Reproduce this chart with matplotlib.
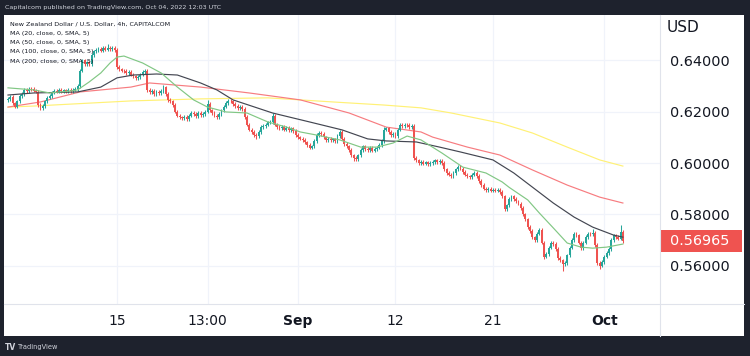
import matplotlib
matplotlib.use("Agg")
import matplotlib.pyplot as plt
from matplotlib.patches import Rectangle
from matplotlib.lines import Line2D
import matplotlib.transforms as mtransforms

# ---------------- data ----------------
first_open = 0.6245
closes = [
    0.6250, 0.6258, 0.6232, 0.6220, 0.6240, 0.6262, 0.6270, 0.6285, 0.6280, 0.6290,
    0.6288, 0.6282, 0.6278, 0.6225, 0.6215, 0.6222, 0.6240, 0.6255, 0.6262, 0.6275,
    0.6282, 0.6278, 0.6285, 0.6280, 0.6283, 0.6279, 0.6284, 0.6280, 0.6286, 0.6288,
    0.6300, 0.6360, 0.6400, 0.6385, 0.6392, 0.6385, 0.6420, 0.6435, 0.6440, 0.6445,
    0.6438, 0.6448, 0.6442, 0.6450, 0.6445, 0.6448, 0.6440, 0.6375, 0.6365, 0.6360,
    0.6358, 0.6350, 0.6355, 0.6345, 0.6338, 0.6330, 0.6335, 0.6345, 0.6355, 0.6360,
    0.6285, 0.6275, 0.6282, 0.6270, 0.6278, 0.6272, 0.6280, 0.6295, 0.6270, 0.6245,
    0.6240, 0.6225, 0.6200, 0.6185, 0.6178, 0.6175, 0.6180, 0.6172, 0.6185, 0.6195,
    0.6190, 0.6183, 0.6195, 0.6188, 0.6192, 0.6200, 0.6230, 0.6205, 0.6195, 0.6185,
    0.6180, 0.6190, 0.6205, 0.6220, 0.6235, 0.6242, 0.6240, 0.6230, 0.6222, 0.6215,
    0.6218, 0.6210, 0.6180, 0.6150, 0.6130, 0.6120, 0.6110, 0.6105, 0.6120, 0.6140,
    0.6145, 0.6150, 0.6158, 0.6160, 0.6185, 0.6150, 0.6140, 0.6135, 0.6142, 0.6130,
    0.6138, 0.6128, 0.6135, 0.6125, 0.6110, 0.6100, 0.6095, 0.6090, 0.6080, 0.6070,
    0.6060, 0.6065, 0.6085, 0.6110, 0.6118, 0.6112, 0.6100, 0.6090, 0.6095, 0.6088,
    0.6092, 0.6085, 0.6105, 0.6120, 0.6095, 0.6075, 0.6065, 0.6050, 0.6030, 0.6020,
    0.6015, 0.6030, 0.6050, 0.6065, 0.6055, 0.6050, 0.6058, 0.6048, 0.6055, 0.6060,
    0.6070, 0.6085, 0.6130, 0.6135, 0.6120, 0.6110, 0.6115, 0.6105, 0.6130, 0.6150,
    0.6145, 0.6150, 0.6148, 0.6140, 0.6145, 0.6020, 0.6010, 0.6000, 0.6005, 0.5998,
    0.6002, 0.5995, 0.6000, 0.6005, 0.6010, 0.6005, 0.6008, 0.6000, 0.5975, 0.5960,
    0.5955, 0.5950, 0.5962, 0.5975, 0.5985, 0.5978, 0.5965, 0.5955, 0.5948, 0.5945,
    0.5955, 0.5960, 0.5950, 0.5930, 0.5915, 0.5900, 0.5895, 0.5898, 0.5892, 0.5896,
    0.5892, 0.5895, 0.5888, 0.5870, 0.5820, 0.5835, 0.5860, 0.5870, 0.5860, 0.5850,
    0.5842, 0.5825, 0.5800, 0.5780, 0.5750, 0.5735, 0.5710, 0.5700, 0.5725, 0.5738,
    0.5690, 0.5635, 0.5645, 0.5670, 0.5690, 0.5685, 0.5665, 0.5630, 0.5620, 0.5605,
    0.5610, 0.5640, 0.5670, 0.5700, 0.5725, 0.5718, 0.5690, 0.5668, 0.5690, 0.5712,
    0.5725, 0.5722, 0.5728, 0.5680, 0.5610, 0.5600, 0.5615, 0.5635, 0.5650, 0.5665,
    0.5700, 0.5718, 0.5712, 0.5705, 0.5730, 0.56965,
]
wick_pad = 0.0007
wick_highs = {43: 0.6462, 67: 0.6305, 86: 0.6245, 114: 0.6195, 143: 0.6128,
              162: 0.6142, 264: 0.5758, 252: 0.5742}
wick_lows = {14: 0.6205, 107: 0.6095, 149: 0.6008, 239: 0.5580, 255: 0.5588,
             231: 0.5625}

ma20_bars = [0, 11, 18, 27, 30, 35, 40, 44, 47, 50, 58, 66, 73, 80, 86, 94, 103, 112,
             120, 126, 133, 143, 152, 159, 166, 172, 178, 187, 196, 206, 213, 216, 224,
             229, 235, 241, 247, 252, 258, 265]
ma20_vals = [0.6293, 0.6285, 0.6273, 0.6281, 0.6285, 0.6316, 0.6351, 0.6390, 0.6413,
             0.6417, 0.6390, 0.6351, 0.6296, 0.6246, 0.6218, 0.6199, 0.6195, 0.6160,
             0.6140, 0.6121, 0.6109, 0.6090, 0.6062, 0.6062, 0.6078, 0.6105, 0.6090,
             0.6039, 0.5984, 0.5961, 0.5926, 0.5905, 0.5856, 0.5805, 0.5747, 0.5688,
             0.5672, 0.5668, 0.5672, 0.5684]
ma50_bars = [0, 11, 30, 40, 47, 54, 64, 73, 83, 90, 97, 114, 130, 144, 155, 163, 176,
             186, 195, 209, 218, 226, 235, 244, 252, 261, 265]
ma50_vals = [0.6265, 0.6273, 0.6277, 0.6296, 0.6332, 0.6343, 0.6347, 0.6343, 0.6312,
             0.6285, 0.6246, 0.6195, 0.6160, 0.6129, 0.6094, 0.6086, 0.6082, 0.6062,
             0.6043, 0.6012, 0.5961, 0.5906, 0.5844, 0.5789, 0.5750, 0.5719, 0.5711]
ma100_bars = [0, 14, 31, 53, 61, 83, 104, 126, 147, 163, 178, 183, 198, 212, 226, 241,
              255, 265]
ma100_vals = [0.6218, 0.6238, 0.6277, 0.6296, 0.6312, 0.6296, 0.6273, 0.6246, 0.6195,
              0.6140, 0.6121, 0.6101, 0.6062, 0.6031, 0.5973, 0.5914, 0.5867, 0.5844]
ma200_bars = [0, 11, 53, 83, 112, 140, 162, 178, 191, 212, 226, 241, 255, 265]
ma200_vals = [0.6218, 0.6222, 0.6242, 0.6250, 0.6254, 0.6238, 0.6226, 0.6215, 0.6195,
              0.6156, 0.6117, 0.6062, 0.6012, 0.5988]

tick_bars = [47, 86, 125, 167, 209, 257]
tick_labels = ['15', '13:00', 'Sep', '12', '21', 'Oct']
bold_labels = ['Sep', 'Oct']
price_ticks = [0.56, 0.58, 0.60, 0.62, 0.64]
price_labels = ['0.56000', '0.58000', '0.60000', '0.62000', '0.64000']
last_price = 0.56965
last_label = '0.56965'

title = 'New Zealand Dollar / U.S. Dollar, 4h, CAPITALCOM'
ma_labels = ['MA (20, close, 0, SMA, 5)', 'MA (50, close, 0, SMA, 5)',
             'MA (100, close, 0, SMA, 5)', 'MA (200, close, 0, SMA, 5)']
header = 'Capitalcom published on TradingView.com, Oct 04, 2022 12:03 UTC'

# ---------------- figure ----------------
W, H = 750, 356
plt.rcParams['font.family'] = ['DejaVu Sans']
fig = plt.figure(figsize=(W / 100, H / 100), dpi=100)
fig.patch.set_facecolor('#1e222d')

def fx(px):
    return px / W

def fy(py):
    return 1 - py / H

# white panel (behind the axes)
panel_ax = fig.add_axes([fx(4), fy(336), fx(744) - fx(4), fy(15) - fy(336)], zorder=-5)
panel_ax.set_facecolor('white')
panel_ax.set_xticks([])
panel_ax.set_yticks([])
for s in panel_ax.spines.values():
    s.set_visible(False)

ax = fig.add_axes([fx(4), fy(304), fx(660) - fx(4), fy(15) - fy(304)], zorder=1)
ax.set_facecolor('white')

n = len(closes)
opens = [first_open] + closes[:-1]
UP, DN = '#26a69a', '#ef5350'
for i in range(n):
    o, c = opens[i], closes[i]
    col = UP if c >= o else DN
    hi = wick_highs.get(i, max(o, c) + wick_pad)
    lo = wick_lows.get(i, min(o, c) - wick_pad)
    ax.vlines(i, lo, hi, color=col, lw=0.75, zorder=3)
    body = max(abs(c - o), 0.00015)
    ax.bar(i, body, bottom=min(o, c), width=0.82, color=col, lw=0, zorder=4)

ax.plot(ma200_bars, ma200_vals, color='#fff176', lw=0.85, zorder=2)
ax.plot(ma100_bars, ma100_vals, color='#f77c80', lw=0.85, zorder=2)
ax.plot(ma50_bars, ma50_vals, color='#434651', lw=0.85, zorder=5)
ax.plot(ma20_bars, ma20_vals, color='#81c784', lw=0.85, zorder=5)

ax.set_xlim(-1.72, 281.0)
ax.set_ylim(0.54503, 0.65770)

ax.yaxis.tick_right()
ax.set_yticks(price_ticks)
ax.set_yticklabels(price_labels)
ax.set_xticks(tick_bars)
ax.set_xticklabels(tick_labels)
ax.tick_params(axis='both', length=0, labelsize=10, colors='#131722')
ax.tick_params(axis='y', pad=7.5, labelsize=10.4)
ax.tick_params(axis='x', pad=7.5)
for lab in ax.get_xticklabels():
    if lab.get_text() in bold_labels:
        lab.set_fontweight('bold')
ax.grid(True, color='#f0f3fa', lw=0.9, zorder=0)
ax.set_axisbelow(True)
for s in ax.spines.values():
    s.set_visible(False)

# separators
fig.lines.append(Line2D([fx(660), fx(660)], [fy(15), fy(336)], transform=fig.transFigure,
                        color='#e0e3eb', lw=0.8, zorder=2))
fig.lines.append(Line2D([fx(4), fx(744)], [fy(304), fy(304)], transform=fig.transFigure,
                        color='#e0e3eb', lw=0.8, zorder=2))

# last price tag
trans = mtransforms.blended_transform_factory(ax.transAxes, ax.transData)
box_h = 22 * (0.65770 - 0.54503) / 289
ax.add_patch(Rectangle((1.0, last_price - box_h / 2), 82 / 656, box_h, transform=trans,
                       fc='#ef5350', ec='none', clip_on=False, zorder=10))
ax.text(1.0 + 10 / 656, last_price, last_label, transform=trans, color='white',
        fontsize=10.4, va='center', ha='left', zorder=11, clip_on=False)

fig.text(fx(667), fy(27), 'USD', color='#131722', fontsize=11, va='center', ha='left')

# legend texts
fig.text(fx(10), fy(24), title, color='#131722', fontsize=4.6, va='center', ha='left', zorder=20)
for k, lab in enumerate(ma_labels):
    fig.text(fx(10), fy(33 + 9.4 * k), lab, color='#131722', fontsize=4.6, va='center',
             ha='left', zorder=20)

fig.text(fx(5), fy(7), header, color='#d1d4dc', fontsize=4.6, va='center', ha='left')
fig.text(fx(5), fy(347), 'TV', color='#d1d4dc', fontsize=5.5, fontweight='bold',
         va='center', ha='left')
fig.text(fx(18), fy(347), 'TradingView', color='#d1d4dc', fontsize=4.8, va='center', ha='left')

fig.savefig('out.png', dpi=100, facecolor=fig.get_facecolor())
